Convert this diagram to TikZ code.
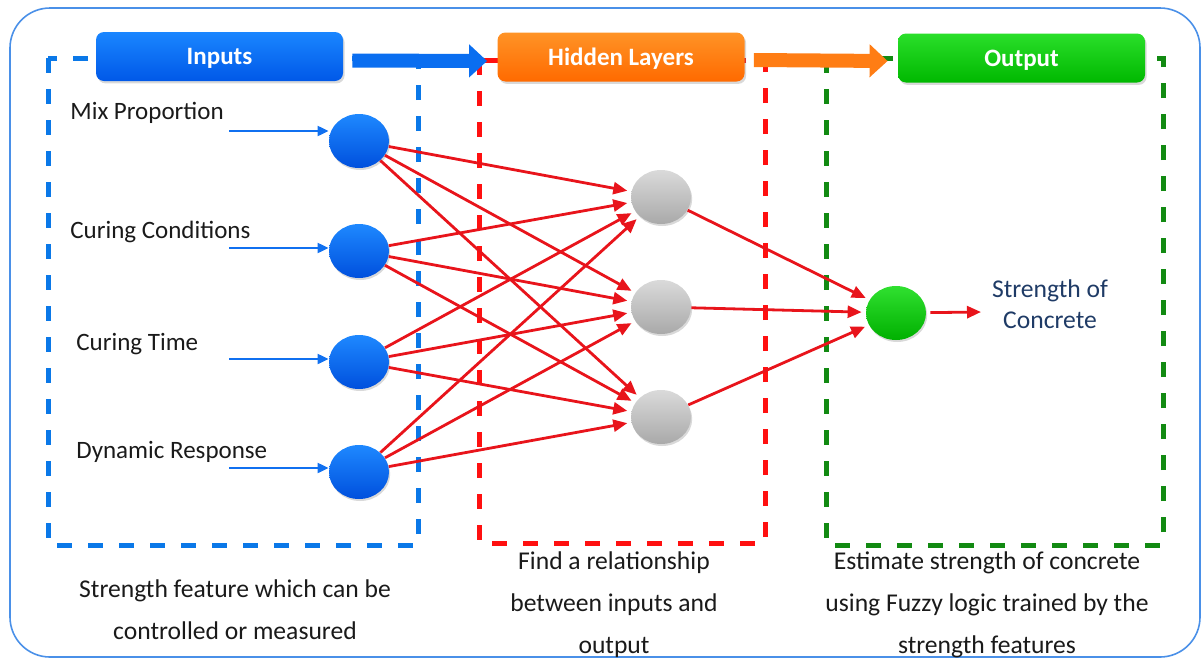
\documentclass[tikz,border=0pt]{standalone}
\usepackage{fontspec}
\setmainfont{Carlito}
\usetikzlibrary{shapes,shapes.geometric,calc,positioning,arrows.meta,shadows}

\definecolor{frameblue}{HTML}{4A90E8}
\definecolor{zoneblue}{HTML}{0A78E8}
\definecolor{zonered}{HTML}{FF1010}
\definecolor{zonegreen}{HTML}{128A12}
\definecolor{synred}{HTML}{E8141B}
\definecolor{feedblue}{HTML}{1070F0}
\definecolor{txt}{HTML}{1A1A1A}
\definecolor{concrete}{HTML}{1F3B66}

\begin{document}
\begin{tikzpicture}
	[x=0.5pt,y=-0.5pt,
	every node/.style={font=\fontsize{12.5}{14}\selectfont,text=txt},
	headbox/.style={rectangle,rounded corners=4pt,minimum width=123.5pt,minimum height=24.5pt,
		text=white,font=\fontsize{12.5}{14}\selectfont\bfseries,text depth=0pt,
		drop shadow={opacity=0.3,shadow xshift=0.8pt,shadow yshift=-1.2pt}},
	neuron/.style={shape=ellipse,minimum width=30pt,minimum height=27pt,inner sep=0pt,
		drop shadow={opacity=0.3,shadow xshift=0.6pt,shadow yshift=-1pt}},
	zone/.style={line width=2.5pt,dash pattern=on 7.5pt off 8pt},
	flow/.style={line width=7pt,-{Triangle[length=9pt,width=16pt]}},
	syn/.style={draw=synred,line width=1.4pt,-{Triangle[length=7pt,width=6pt]},shorten >=2pt},
	feed/.style={draw=feedblue,line width=1pt,-{Triangle[length=5.5pt,width=5pt]}},
	note/.style={align=center,font=\fontsize{12.8}{21}\selectfont}]
	\useasboundingbox (0,0) rectangle (1203,659);

	% frame and groups
	\draw[frameblue,line width=0.8pt,rounded corners=20pt] (10,8) rectangle (1200,657);
	\draw[zone,zoneblue] (48,58) rectangle (418,545);
	\draw[zone,zonered] (479,60) rectangle (765,543);
	\draw[zone,zonegreen] (826,58) rectangle (1163,545);

	% headers
	\node[headbox,top color={rgb,255:red,26;green,134;blue,255},bottom color={rgb,255:red,0;green,88;blue,232}]
		(inhead) at (219.5,56.5) {Inputs};
	\node[headbox,top color={rgb,255:red,255;green,147;blue,38},bottom color={rgb,255:red,255;green,106;blue,0}]
		(hidhead) at (621,57) {Hidden Layers};
	\node[headbox,top color={rgb,255:red,42;green,223;blue,42},bottom color={rgb,255:red,0;green,184;blue,0}]
		(outhead) at (1021.5,58) {Output};
	\draw[flow,draw={rgb,255:red,10;green,110;blue,240}] ([xshift=4.5pt,yshift=-2pt]inhead.east) -- ([xshift=-5pt,yshift=-2pt]hidhead.west);
	\draw[flow,draw={rgb,255:red,255;green,125;blue,20}] ([xshift=4.5pt,yshift=-1.5pt]hidhead.east) -- ([xshift=-5pt,yshift=-1.5pt]outhead.west);

	% units
	\foreach \n/\y in {1/141,2/251,3/362,4/472}
		\node[neuron,top color={rgb,255:red,30;green,136;blue,255},bottom color={rgb,255:red,0;green,80;blue,221}] (in\n) at (359,\y) {};
	\foreach \n/\y in {1/197,2/307,3/417}
		\node[neuron,top color={rgb,255:red,218;green,218;blue,218},bottom color={rgb,255:red,169;green,169;blue,169}] (hid\n) at (661,\y) {};
	\node[neuron,top color={rgb,255:red,48;green,224;blue,48},bottom color={rgb,255:red,0;green,176;blue,0}] (out) at (896,313) {};

	% input labels
	\foreach \n/\lx/\ly/\ay/\name in {1/70/113/131/Mix Proportion,2/70/232/248/Curing Conditions,
		3/76/344/359/Curing Time,4/76/452/468/Dynamic Response}
	{
		\node[anchor=west,inner sep=0pt] (lab\n) at (\lx,\ly) {\name};
		\coordinate (src\n) at (229,\ay);
		\draw[feed] (src\n) -- (src\n -| in\n.west);
	}

	% connections
	\foreach \i in {1,...,4}
		\foreach \j in {1,2,3}
			\draw[syn] (in\i) -- (hid\j);
	\foreach \j in {1,2,3}
		\draw[syn] (hid\j) -- (out);
	\coordinate (res) at (981,312);
	\draw[syn,shorten >=0pt,shorten <=2pt] (out) -- (res);
	\node[text=concrete,align=center,font=\fontsize{12.8}{15.5}\selectfont] (strength) at (1050,304) {Strength of\\Concrete};

	% notes
	\node[note] (noteA) at (235,610) {Strength feature which can be\\controlled or measured};
	\node[note] (noteB) at (614,605) {Find a relationship\\between inputs and\\output};
	\node[note] (noteC) at (987,605) {Estimate strength of concrete\\using Fuzzy logic trained by the\\strength features};
\end{tikzpicture}
\end{document}
